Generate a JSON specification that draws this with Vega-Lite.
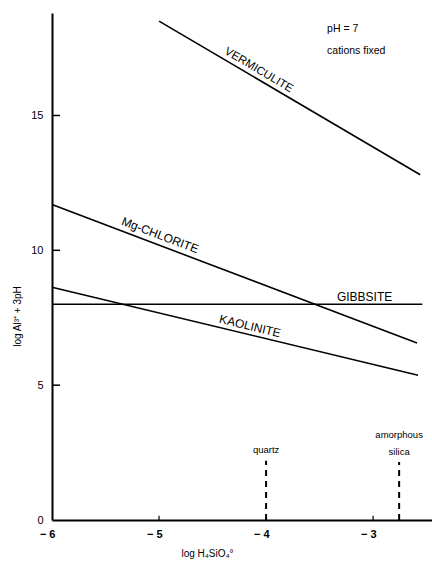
{
  "$schema": "https://vega.github.io/schema/vega-lite/v6.json",
  "width": 380,
  "height": 507,
  "autosize": "none",
  "padding": {"left": 52, "top": 13, "right": 0, "bottom": 41},
  "background": "white",
  "config": {
    "view": {"stroke": null},
    "font": "Liberation Sans",
    "text": {"font": "Liberation Sans", "color": "black"}
  },
  "datasets": {
    "lines": [
      {"mineral": "VERMICULITE", "x": -5.0, "y": 18.5},
      {"mineral": "VERMICULITE", "x": -2.56, "y": 12.8},
      {"mineral": "Mg-CHLORITE", "x": -6.0, "y": 11.7},
      {"mineral": "Mg-CHLORITE", "x": -2.59, "y": 6.56},
      {"mineral": "GIBBSITE", "x": -6.0, "y": 8.0},
      {"mineral": "GIBBSITE", "x": -2.54, "y": 8.0},
      {"mineral": "KAOLINITE", "x": -6.0, "y": 8.63},
      {"mineral": "KAOLINITE", "x": -2.58, "y": 5.37}
    ],
    "silica": [
      {"phase": "quartz", "x": -4.0, "y": 0},
      {"phase": "quartz", "x": -4.0, "y": 2.2},
      {"phase": "amorphous silica", "x": -2.757, "y": 0},
      {"phase": "amorphous silica", "x": -2.757, "y": 2.15}
    ],
    "yticks": [
      {"v": 5, "x1": -6, "x2": -5.925},
      {"v": 10, "x1": -6, "x2": -5.925},
      {"v": 15, "x1": -6, "x2": -5.925}
    ],
    "xticks": [
      {"v": -5, "y1": 0, "y2": 0.16},
      {"v": -3, "y1": 0, "y2": 0.16}
    ]
  },
  "layer": [
    {
      "data": {"name": "lines"},
      "mark": {"type": "line", "color": "black", "strokeWidth": 1.6},
      "encoding": {
        "x": {
          "field": "x", "type": "quantitative",
          "scale": {"domain": [-6, -2.45], "nice": false, "zero": false},
          "axis": {
            "values": [-6, -5, -4, -3],
            "grid": false, "ticks": false,
            "domainColor": "black", "domainWidth": 2,
            "labelExpr": "'− ' + abs(datum.value)",
            "labelFontSize": 11, "labelColor": "black", "labelPadding": 8,
            "labelFontWeight": "bold", "labelAlign": "right", "labelOffset": 3,
            "title": "log H₄SiO₄°",
            "titleFontSize": 10, "titleFontWeight": "normal", "titleColor": "black",
            "titleX": 155, "titleY": 33, "titleBaseline": "middle", "titleAlign": "center"
          }
        },
        "y": {
          "field": "y", "type": "quantitative",
          "scale": {"domain": [0, 18.8], "nice": false},
          "axis": {
            "values": [0, 5, 10, 15],
            "grid": false, "ticks": false,
            "domainColor": "black", "domainWidth": 2,
            "labelFontSize": 11, "labelColor": "black", "labelPadding": 9,
            "title": "log Al³⁺ + 3pH",
            "titleFontSize": 10, "titleFontWeight": "normal", "titleColor": "black",
            "titleX": -35, "titleY": 303, "titleBaseline": "middle", "titleAlign": "center", "titleAngle": -90
          }
        },
        "detail": {"field": "mineral"}
      }
    },
    {
      "data": {"name": "yticks"},
      "mark": {"type": "rule", "color": "black", "strokeWidth": 1.5},
      "encoding": {
        "x": {"field": "x1", "type": "quantitative"},
        "x2": {"field": "x2"},
        "y": {"field": "v", "type": "quantitative"}
      }
    },
    {
      "data": {"name": "xticks"},
      "mark": {"type": "rule", "color": "black", "strokeWidth": 1.2},
      "encoding": {
        "x": {"field": "v", "type": "quantitative"},
        "y": {"field": "y1", "type": "quantitative"},
        "y2": {"field": "y2"}
      }
    },
    {
      "data": {"name": "silica"},
      "mark": {"type": "line", "color": "black", "strokeWidth": 2, "strokeDash": [6, 5]},
      "encoding": {
        "x": {"field": "x", "type": "quantitative"},
        "y": {"field": "y", "type": "quantitative"},
        "detail": {"field": "phase"}
      }
    },
    {
      "data": {"values": [{"t": "VERMICULITE", "x": -4.07, "y": 16.67}]},
      "mark": {"type": "text", "angle": 30.7, "fontSize": 11.5, "align": "center", "baseline": "middle"},
      "encoding": {"x": {"field": "x", "type": "quantitative"}, "y": {"field": "y", "type": "quantitative"}, "text": {"field": "t"}}
    },
    {
      "data": {"values": [{"t": "Mg-CHLORITE", "x": -4.99, "y": 10.56}]},
      "mark": {"type": "text", "angle": 20.9, "fontSize": 12, "align": "center", "baseline": "middle"},
      "encoding": {"x": {"field": "x", "type": "quantitative"}, "y": {"field": "y", "type": "quantitative"}, "text": {"field": "t"}}
    },
    {
      "data": {"values": [{"t": "KAOLINITE", "x": -4.15, "y": 7.19}]},
      "mark": {"type": "text", "angle": 13.6, "fontSize": 12, "align": "center", "baseline": "middle"},
      "encoding": {"x": {"field": "x", "type": "quantitative"}, "y": {"field": "y", "type": "quantitative"}, "text": {"field": "t"}}
    },
    {
      "data": {"values": [{"t": "GIBBSITE", "x": -3.08, "y": 8.26}]},
      "mark": {"type": "text", "fontSize": 12, "align": "center", "baseline": "middle"},
      "encoding": {"x": {"field": "x", "type": "quantitative"}, "y": {"field": "y", "type": "quantitative"}, "text": {"field": "t"}}
    },
    {
      "data": {"values": [
        {"t": "pH = 7", "x": -3.43, "y": 18.2},
        {"t": "cations fixed", "x": -3.43, "y": 17.4}
      ]},
      "mark": {"type": "text", "fontSize": 10.5, "align": "left", "baseline": "middle"},
      "encoding": {"x": {"field": "x", "type": "quantitative"}, "y": {"field": "y", "type": "quantitative"}, "text": {"field": "t"}}
    },
    {
      "data": {"values": [
        {"t": "quartz", "x": -4.0, "y": 2.59},
        {"t": "amorphous", "x": -2.757, "y": 3.15},
        {"t": "silica", "x": -2.757, "y": 2.52}
      ]},
      "mark": {"type": "text", "fontSize": 9.5, "align": "center", "baseline": "middle"},
      "encoding": {"x": {"field": "x", "type": "quantitative"}, "y": {"field": "y", "type": "quantitative"}, "text": {"field": "t"}}
    }
  ]
}
